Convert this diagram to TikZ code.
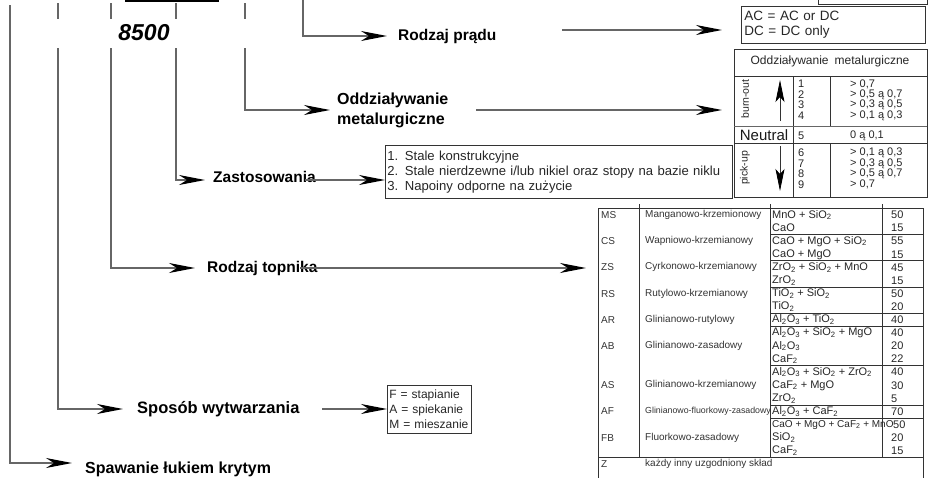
\documentclass[tikz,border=0pt]{standalone}
\usepackage{fontspec}
\setmainfont{Liberation Sans}
\usetikzlibrary{arrows.meta,positioning,calc}
\newcommand{\ix}[1]{\textsubscript{#1}}

\begin{document}
\begin{tikzpicture}[x=1pt, y=-1pt,
    stem/.style={draw=black!60, line width=1.3pt},
    arr/.style={stem, -{Stealth[length=26pt, width=10pt, inset=8pt, color=black]}},
    branch/.style={anchor=west, inner sep=0pt, font=\fontsize{15.5}{19}\selectfont\bfseries, align=left},
    infobox/.style={draw=black!80, line width=0.8pt, anchor=north west, align=left, inner sep=3pt, text=black!85, font=\fontsize{13.5}{15}\selectfont},
    tline/.style={draw=black!80, line width=0.8pt},
    mcell/.style={anchor=west, inner sep=0pt, text=black!85, font=\fontsize{11}{11}\selectfont},
    fcell/.style={anchor=west, inner sep=0pt, text=black!80, font=\fontsize{10}{10}\selectfont},
    ccell/.style={anchor=west, inner sep=0pt, text=black!85, font=\fontsize{11}{11}\selectfont},
    updown/.style={draw=black!80, line width=0.8pt, -{Stealth[length=22pt, width=9pt, inset=5pt, color=black]}}
  ]
\useasboundingbox (0,0) rectangle (929,477);

% Code
\node[font=\fontsize{23}{25}\selectfont\bfseries\itshape] (code) at (144,33) {8500};
\draw[line width=2pt] (125,1) -- (219,1);
\foreach \x in {58,111,176,245} \draw[stem] (\x,3) -- (\x,19);

% Rodzaj pradu
\coordinate (top6) at (303,0);
\node[branch] (prad) at (398,36) {Rodzaj prądu};
\draw[arr] (top6) |- ([xshift=-11pt]prad.west);
\node[infobox, text width=178pt, minimum height=37pt] (acbox) at (741,6) {AC = AC or DC\\DC = DC only};
\coordinate (pradout) at (562,30);
\draw[arr] (pradout) -- ([xshift=-19pt]pradout -| acbox.west);
\draw[tline] (818,-2) |- (927,4) -- (927,-2);

% Oddzialywanie metalurgiczne
\coordinate (top5) at (245,48);
\node[branch, font=\fontsize{16}{20}\selectfont\bfseries] (metal) at (337,110) {Oddziaływanie\\metalurgiczne};
\draw[arr] (top5) |- ([xshift=-7pt]metal.west);
\node[tline, draw, anchor=north west, minimum width=193pt, minimum height=148pt, inner sep=0pt] (mtab) at (734,49) {};
\coordinate (metalout) at (476,110);
\draw[arr] (metalout) -- ([xshift=-12pt]metalout -| mtab.west);

\node[mcell, anchor=center, font=\fontsize{12}{12}\selectfont] (mtitle) at (830,61) {Oddziaływanie\enspace metalurgiczne};
\draw[tline] (734,76) -- (927,76);
\draw[tline] (793,76) -- (793,197);
\draw[tline] (830,76) -- (830,126) (830,143) -- (830,197);
\draw[tline, line width=1.6pt, draw=black!60] (734,126.5) -- (927,126.5);
\draw[tline] (734,143) -- (927,143);
\node[rotate=90, font=\fontsize{10.5}{11}\selectfont, text=black!85] (burn) at (745,99) {burn-out};
\node[rotate=90, font=\fontsize{10.5}{11}\selectfont, text=black!85] (pick) at (745,168) {pick-up};
\draw[updown] (780,121) -- (780,80);
\draw[updown] (780,146) -- (780,191);
\node[font=\fontsize{15}{15}\selectfont, text=black!90] (neutral) at (764,135) {Neutral};
\foreach \n/\y/\v in {1/84/{> 0,7}, 2/94.5/{> 0,5 ą 0,7}, 3/105/{> 0,3 ą 0,5}, 4/115.5/{> 0,1 ą 0,3},
    5/136/{0 ą 0,1}, 6/153/{> 0,1 ą 0,3}, 7/163.5/{> 0,3 ą 0,5}, 8/174/{> 0,5 ą 0,7}, 9/184.5/{> 0,7}} {
  \node[mcell] (mn\n) at (798,\y) {\n};
  \node[mcell] (mv\n) at (850,\y) {\v};
}

% Zastosowania
\coordinate (top4) at (176,48);
\node[branch] (zast) at (213,177) {Zastosowania};
\draw[arr] (top4) |- ([xshift=-8pt,yshift=-3pt]zast.west);
\node[infobox, font=\fontsize{13.1}{15}\selectfont, inner sep=2pt, text width=343pt, minimum height=53pt] (zastbox) at (385,145)
  {1. Stale konstrukcyjne\\2. Stale nierdzewne i/lub nikiel oraz stopy na bazie niklu\\3. Napoiny odporne na zużycie};
\coordinate (zastout) at (305,180);
\draw[arr] (zastout) -- (zastout -| zastbox.west);

% Rodzaj topnika
\coordinate (top3) at (111,48);
\node[branch] (topn) at (207,268) {Rodzaj topnika};
\draw[arr] (top3) |- ([xshift=-12pt]topn.west);
\node[tline, draw, anchor=north west, minimum width=325pt, minimum height=275pt, inner sep=0pt] (ftab) at (598,208) {};
\coordinate (topnout) at (300,268);
\draw[arr] (topnout) -- ([xshift=-12pt]topnout -| ftab.west);

\foreach \x in {639,770,882} \draw[tline] (\x,204) -- (\x,457.4);
\draw[tline] (598,457.4) -- (923,457.4);
\foreach \k in {1,3,5,7,8,11,14,15} \draw[tline] (770,221.55+13.1*\k) -- (923,221.55+13.1*\k);
\foreach \i/\k/\n in {0/MS/Manganowo-krzemionowy, 2/CS/Wapniowo-krzemianowy, 4/ZS/Cyrkonowo-krzemianowy,
    6/RS/Rutylowo-krzemianowy, 8/AR/Glinianowo-rutylowy, 10/AB/Glinianowo-zasadowy,
    13/AS/Glinianowo-krzemianowy, 17/FB/Fluorkowo-zasadowy} {
  \node[fcell] (code\k) at (601,215+13.1*\i) {\k};
  \node[fcell] (name\k) at (645,215+13.1*\i) {\n};
}
\node[fcell] (codeAF) at (601,411.5) {AF};
\node[fcell, font=\fontsize{8.8}{9}\selectfont] (nameAF) at (645,411.5) {Glinianowo-fluorkowy-zasadowy};
\node[fcell] (codeZ) at (601,464) {Z};
\node[fcell] (nameZ) at (645,464) {każdy inny uzgodniony skład};
\foreach \i/\c/\v in {0/MnO + SiO\ix{2}/50, 1/CaO/15, 2/CaO + MgO + SiO\ix{2}/55, 3/CaO + MgO/15,
    4/ZrO\ix{2} + SiO\ix{2} + MnO/45, 5/ZrO\ix{2}/15, 6/TiO\ix{2} + SiO\ix{2}/50, 7/TiO\ix{2}/20,
    8/Al\ix{2}O\ix{3} + TiO\ix{2}/40, 9/Al\ix{2}O\ix{3} + SiO\ix{2} + MgO/40, 10/Al\ix{2}O\ix{3}/20,
    11/CaF\ix{2}/22, 12/Al\ix{2}O\ix{3} + SiO\ix{2} + ZrO\ix{2}/40, 13/CaF\ix{2} + MgO/30, 14/ZrO\ix{2}/5,
    15/Al\ix{2}O\ix{3} + CaF\ix{2}/70, 17/SiO\ix{2}/20, 18/CaF\ix{2}/15} {
  \node[ccell] (comp\i) at (772,215+13.1*\i) {\c};
  \node[ccell] (val\i) at (891,215+13.1*\i) {\v};
}
\node[ccell, font=\fontsize{10}{10}\selectfont] (comp16) at (772,424.6) {CaO + MgO + CaF\ix{2} + MnO};
\node[ccell] (val16) at (893,424.6) {50};

% Sposob wytwarzania
\coordinate (top2) at (58,48);
\node[branch, font=\fontsize{16.5}{19}\selectfont\bfseries] (spos) at (137,409) {Sposób wytwarzania};
\draw[arr] (top2) |- ([xshift=-14pt]spos.west);
\node[infobox, font=\fontsize{12}{15}\selectfont, inner sep=2pt, text width=80pt, minimum height=48pt] (spbox) at (387,385)
  {F = stapianie\\A = spiekanie\\M = mieszanie};
\coordinate (sposout) at (322,409);
\draw[arr] (sposout) -- (sposout -| spbox.west);

% Spawanie lukiem krytym
\coordinate (top1) at (10,5);
\node[branch, font=\fontsize{16}{19}\selectfont\bfseries] (spaw) at (85,469) {Spawanie łukiem krytym};
\draw[arr] (top1) |- ([xshift=-13pt,yshift=6pt]spaw.west);

\end{tikzpicture}
\end{document}
